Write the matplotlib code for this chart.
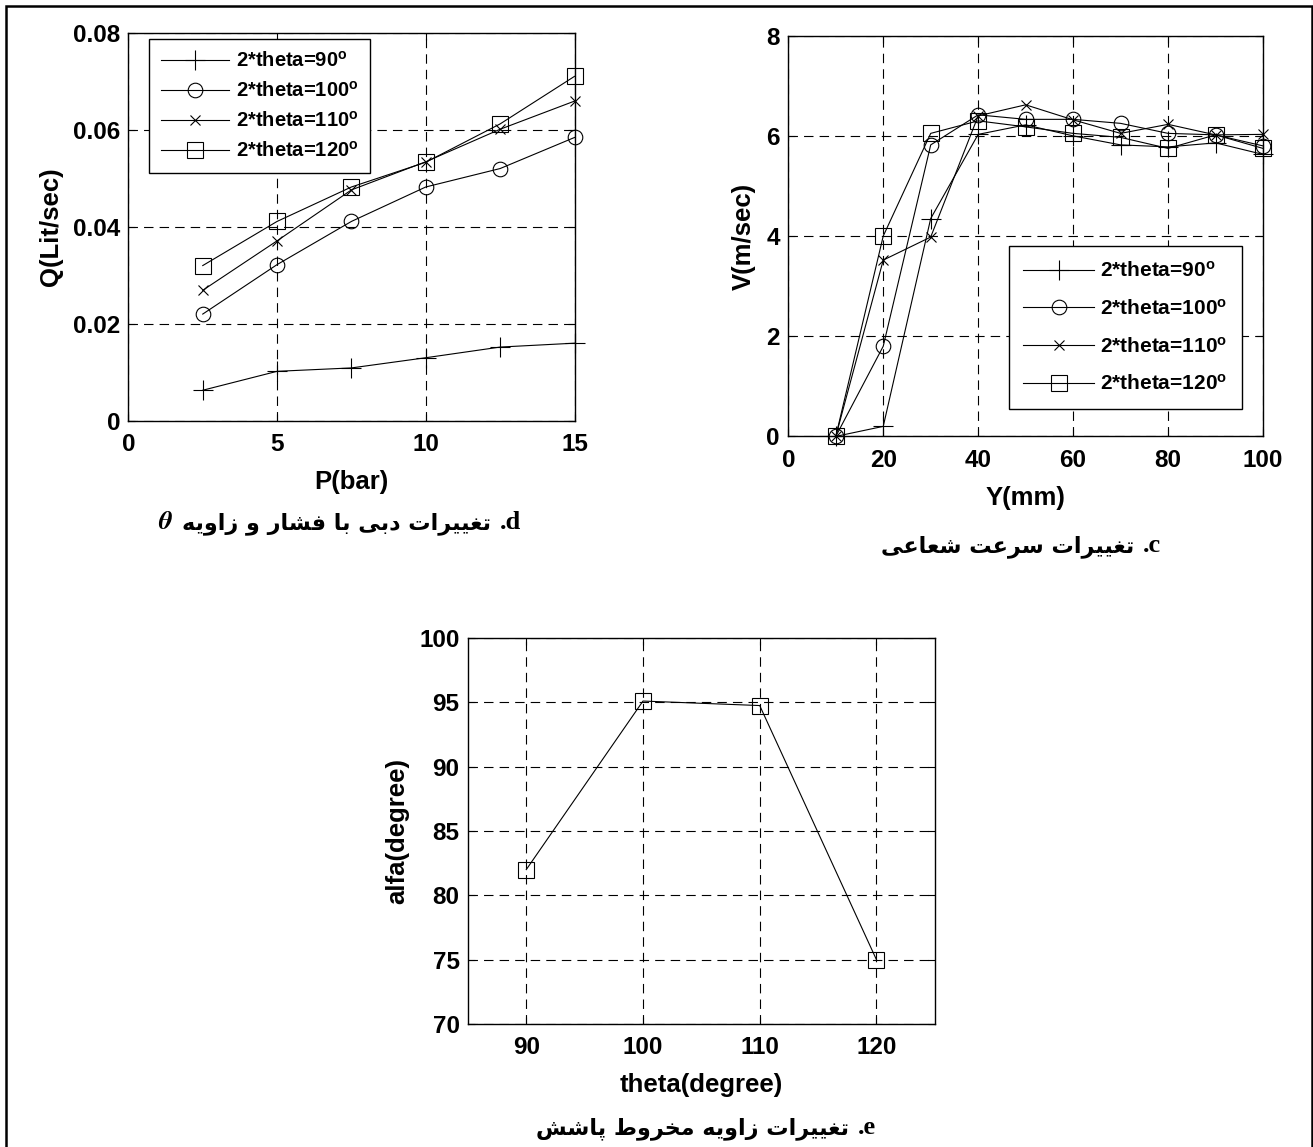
import matplotlib
matplotlib.use("Agg")
import matplotlib.pyplot as plt
from matplotlib.patches import Rectangle

plt.rcParams['font.family'] = ['Liberation Sans', 'DejaVu Sans']
plt.rcParams['font.weight'] = 'bold'
plt.rcParams['mathtext.fontset'] = 'custom'
plt.rcParams['mathtext.rm'] = 'Liberation Sans:bold'
plt.rcParams['mathtext.it'] = 'Liberation Sans:bold'
plt.rcParams['mathtext.bf'] = 'Liberation Sans:bold'

# ---------------- data ----------------
series_labels = ['2*theta=90$^{o}$', '2*theta=100$^{o}$', '2*theta=110$^{o}$', '2*theta=120$^{o}$']
series_markers = ['+', 'o', 'x', 's']

# (d) discharge vs pressure
P_bar = [2.5, 5, 7.5, 10, 12.5, 15]
Q_90 = [0.0063, 0.0102, 0.0109, 0.0130, 0.0152, 0.0160]
Q_100 = [0.0220, 0.0322, 0.0411, 0.0482, 0.0520, 0.0584]
Q_110 = [0.0269, 0.0371, 0.0476, 0.0534, 0.0601, 0.0659]
Q_120 = [0.0320, 0.0411, 0.0482, 0.0533, 0.0612, 0.0710]

# (c) radial velocity
Y_mm = [10, 20, 30, 40, 50, 60, 70, 80, 90, 100]
V_90 = [0.0, 0.2, 4.35, 6.03, 6.22, 6.0, 5.82, 5.78, 5.86, 5.63]
V_100 = [0.0, 1.8, 5.82, 6.42, 6.33, 6.33, 6.25, 6.05, 6.02, 5.8]
V_110 = [0.0, 3.52, 3.98, 6.4, 6.62, 6.32, 6.05, 6.23, 6.02, 6.03]
V_120 = [0.0, 4.0, 6.05, 6.3, 6.18, 6.05, 5.97, 5.75, 6.02, 5.75]

# (e) spray cone angle
theta_deg = [90, 100, 110, 120]
alfa_deg = [82.0, 95.1, 94.75, 75.0]

d_xticks = [0, 5, 10, 15]
d_yticks = [0, 0.02, 0.04, 0.06, 0.08]
d_yticklabels = ['0', '0.02', '0.04', '0.06', '0.08']
c_xticks = [0, 20, 40, 60, 80, 100]
c_yticks = [0, 2, 4, 6, 8]
e_xticks = [90, 100, 110, 120]
e_yticks = [70, 75, 80, 85, 90, 95, 100]

caption_d = 'تغییرات دبی با فشار و زاویه'
caption_c = 'تغییرات سرعت شعاعی'
caption_e = 'تغییرات زاویه مخروط پاشش'

# ---------------- Persian shaping (presentation forms, visual order) ----------------
FORMS = {
    '\u0627': ('\uFE8D', '\uFE8E', None, None),
    '\u0628': ('\uFE8F', '\uFE90', '\uFE91', '\uFE92'),
    '\u067E': ('\uFB56', '\uFB57', '\uFB58', '\uFB59'),
    '\u062A': ('\uFE95', '\uFE96', '\uFE97', '\uFE98'),
    '\u062E': ('\uFEA5', '\uFEA6', '\uFEA7', '\uFEA8'),
    '\u062F': ('\uFEA9', '\uFEAA', None, None),
    '\u0631': ('\uFEAD', '\uFEAE', None, None),
    '\u0632': ('\uFEAF', '\uFEB0', None, None),
    '\u0633': ('\uFEB1', '\uFEB2', '\uFEB3', '\uFEB4'),
    '\u0634': ('\uFEB5', '\uFEB6', '\uFEB7', '\uFEB8'),
    '\u0637': ('\uFEC1', '\uFEC2', '\uFEC3', '\uFEC4'),
    '\u0639': ('\uFEC9', '\uFECA', '\uFECB', '\uFECC'),
    '\u063A': ('\uFECD', '\uFECE', '\uFECF', '\uFED0'),
    '\u0641': ('\uFED1', '\uFED2', '\uFED3', '\uFED4'),
    '\u0645': ('\uFEE1', '\uFEE2', '\uFEE3', '\uFEE4'),
    '\u0647': ('\uFEE9', '\uFEEA', '\uFEEB', '\uFEEC'),
    '\u0648': ('\uFEED', '\uFEEE', None, None),
    '\u06CC': ('\uFBFC', '\uFBFD', '\uFBFE', '\uFBFF'),
}


def shape(text):
    out = []
    n = len(text)
    for i, ch in enumerate(text):
        if ch not in FORMS:
            out.append(ch)
            continue
        prev = text[i - 1] if i > 0 else ''
        nxt = text[i + 1] if i + 1 < n else ''
        jp = prev in FORMS and FORMS[prev][2] is not None
        jn = FORMS[ch][2] is not None and nxt in FORMS
        f = FORMS[ch]
        if jp and jn:
            out.append(f[3])
        elif jp:
            out.append(f[1])
        elif jn:
            out.append(f[2])
        else:
            out.append(f[0])
    return ''.join(reversed(out))


W, H = 1313, 1147
fig = plt.figure(figsize=(W / 100, H / 100), dpi=100)


def fig_axes(l, t, r, b):
    return fig.add_axes([l / W, 1 - b / H, (r - l) / W, (b - t) / H])


TICK_FS = 17.5
LABEL_FS = 18.5
LEG_FS = 14.5
CAP_FS = 16


def style_axes(ax):
    ax.grid(True, color='black', linestyle=(0, (8.5, 5.5)), linewidth=0.8)
    ax.tick_params(direction='in', top=True, right=True, length=5, width=0.8,
                   labelsize=TICK_FS)
    ax.tick_params(axis='x', pad=9)
    ax.tick_params(axis='y', pad=6)
    for s in ax.spines.values():
        s.set_linewidth(1.0)
    for lab in ax.get_xticklabels() + ax.get_yticklabels():
        lab.set_fontweight('bold')


line_kw = dict(color='black', linewidth=0.8, markerfacecolor='none',
               markeredgecolor='black', markeredgewidth=0.8, clip_on=False)
msizes = {'+': 14, 'o': 10.5, 'x': 6.5, 's': 11}

# ---------- (d) ----------
axd = fig_axes(128.4, 32.7, 574.5, 420.8)
for yv, lab, mk in zip([Q_90, Q_100, Q_110, Q_120], series_labels, series_markers):
    axd.plot(P_bar, yv, marker=mk, markersize=msizes[mk], label=lab, **line_kw)
axd.set_xlim(0, 15)
axd.set_ylim(0, 0.08)
axd.set_xticks(d_xticks)
axd.set_yticks(d_yticks)
axd.set_yticklabels(d_yticklabels)
axd.set_xlabel('P(bar)', fontsize=LABEL_FS, fontweight='bold', labelpad=10)
axd.set_ylabel('Q(Lit/sec)', fontsize=LABEL_FS, fontweight='bold', labelpad=7)
style_axes(axd)
legd = axd.legend(loc='upper left', bbox_to_anchor=(0.046, 0.985), borderaxespad=0,
                  handlelength=3.4, handletextpad=0.3,
                  labelspacing=0.5, borderpad=0.6, fancybox=False, framealpha=1,
                  edgecolor='black', prop={'weight': 'bold', 'size': LEG_FS})
legd.get_frame().set_linewidth(1.0)

# ---------- (c) ----------
axc = fig_axes(788.3, 35.7, 1263.0, 436.4)
for yv, lab, mk in zip([V_90, V_100, V_110, V_120], series_labels, series_markers):
    axc.plot(Y_mm, yv, marker=mk, markersize=msizes[mk], label=lab, **line_kw)
axc.set_xlim(0, 100)
axc.set_ylim(0, 8)
axc.set_xticks(c_xticks)
axc.set_yticks(c_yticks)
axc.set_xlabel('Y(mm)', fontsize=LABEL_FS, fontweight='bold', labelpad=10)
axc.set_ylabel('V(m/sec)', fontsize=LABEL_FS, fontweight='bold', labelpad=8)
style_axes(axc)
legc = axc.legend(loc='upper left', bbox_to_anchor=(0.464, 0.474), borderaxespad=0,
                  handlelength=3.4, handletextpad=0.3,
                  labelspacing=0.85, borderpad=0.7, fancybox=False, framealpha=1,
                  edgecolor='black', prop={'weight': 'bold', 'size': 15})
legc.get_frame().set_linewidth(1.0)

# ---------- (e) ----------
axe = fig_axes(467.9, 638.0, 934.8, 1024.0)
axe.plot(theta_deg, alfa_deg, marker='s', markersize=msizes['s'], **line_kw)
axe.set_xlim(85, 125)
axe.set_ylim(70, 100)
axe.set_xticks(e_xticks)
axe.set_yticks(e_yticks)
axe.set_xlabel('theta(degree)', fontsize=LABEL_FS, fontweight='bold', labelpad=10)
axe.set_ylabel('alfa(degree)', fontsize=LABEL_FS, fontweight='bold', labelpad=7)
style_axes(axe)

# ---------- captions ----------
def caption(cx, base_y, persian, latin, with_theta=False):
    t = fig.text(cx / W, 1 - base_y / H, shape(persian), ha='center', va='baseline',
                 family='DejaVu Sans', fontweight='bold', fontsize=CAP_FS)
    fig.canvas.draw()
    bb = t.get_window_extent()
    fig.text((bb.x1 + 8) / W, 1 - base_y / H, latin, ha='left', va='baseline',
             family='Liberation Serif', fontweight='bold', fontsize=19)
    if with_theta:
        fig.text((bb.x0 - 10) / W, 1 - base_y / H, r'$\theta$', ha='right', va='baseline',
                 fontsize=19, math_fontfamily='stix')


caption(337, 529, caption_d, '.d', with_theta=True)
caption(1008, 552, caption_c, '.c')
caption(693, 1134, caption_e, '.e')

# figure border
fig.patches.append(Rectangle((5.5 / W, -0.01), (1311.5 - 5.5) / W, 1.01 - 5.5 / H,
                             transform=fig.transFigure, fill=False, edgecolor='black',
                             linewidth=1.8))

fig.savefig('out.png', dpi=100)
